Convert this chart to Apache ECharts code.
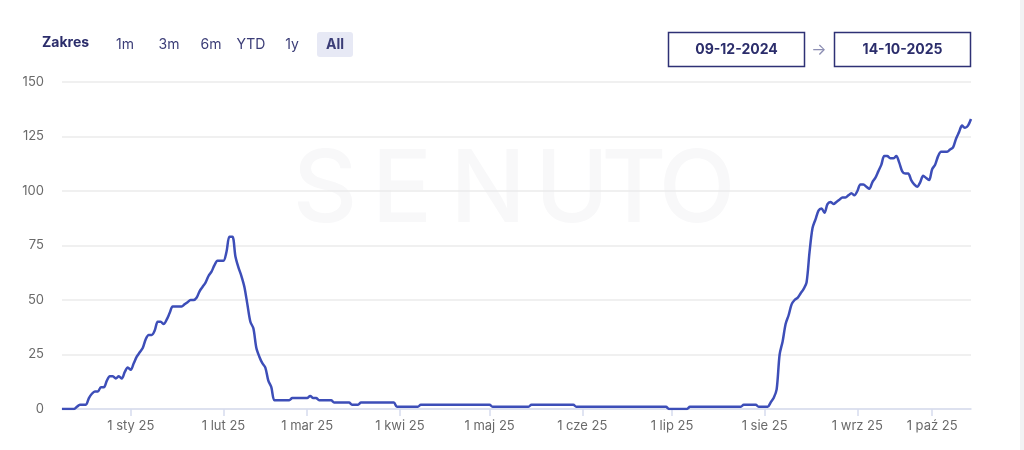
<!DOCTYPE html>
<html>
<head>
<meta charset="utf-8">
<script src="https://cdn.jsdelivr.net/npm/echarts@6/dist/echarts.min.js"></script>
<style>
html,body{margin:0;padding:0;background:#fff;}
#chart{width:1024px;height:450px;}
</style>
</head>
<body>
<div id="chart"></div>
<script>
// Daily values per month
const dec24 = [0,0,0,0,0,1,2,2,2,5,7,8,8,10,10,13,15,15,14,15,14,17,19];           // 9..31 Dec
const jan25 = [18,21,24,26,28,32,34,34,36,40,40,39,41,44,47,47,47,47,48,49,50,50,51,54,56,58,61,63,66,68,68];
const feb25 = [68,72,79,79,70,65,61,56,48,40,37,28,24,21,19,13,10,4,4,4,4,4,4,5,5,5,5,5];
const mar25 = [5,6,5,5,4,4,4,4,4,3,3,3,3,3,3,2,2,2,3,3,3,3,3,3,3,3,3,3,3,3,1];
const apr25 = [1,1,1,1,1,1,1,2,2,2,2,2,2,2,2,2,2,2,2,2,2,2,2,2,2,2,2,2,2,2];
const may25 = [2,1,1,1,1,1,1,1,1,1,1,1,1,1,2,2,2,2,2,2,2,2,2,2,2,2,2,2,2,1,1];
const jun25 = [1,1,1,1,1,1,1,1,1,1,1,1,1,1,1,1,1,1,1,1,1,1,1,1,1,1,1,1,1,0];
const jul25 = [0,0,0,0,0,0,1,1,1,1,1,1,1,1,1,1,1,1,1,1,1,1,1,1,2,2,2,2,2,1,1];
const aug25 = [1,1,3,5,9,25,31,39,43,48,50,51,53,55,58,72,83,87,91,92,90,94,95,94,95,96,97,97,98,99,98];
const sep25 = [100,103,103,102,101,104,106,109,112,116,116,115,115,116,113,109,108,108,105,103,102,104,107,106,105];
const oct25 = [110,112,116,118,118,118,119,120,124,127,130,129,130,133];

// Days of month for each data block
const decDays = [9,10,11,12,13,14,15,16,17,18,19,20,21,22,23,24,25,26,27,28,29,30,31];
const sepDays = [1,2,3,4,5,8,9,10,11,12,15,16,17,18,19,20,22,23,24,25,26,27,28,29,30];
const octDays = [1,2,3,4,5,6,7,8,9,10,11,12,13,14];

const yTicks = [0,25,50,75,100,125,150];
const rangeButtons = ['1m','3m','6m','YTD','1y','All'];
const dateFrom = '09-12-2024';
const dateTo = '14-10-2025';
const plMonths = ['sty','lut','mar','kwi','maj','cze','lip','sie','wrz','paź','lis','gru'];

// build categories + values
const blocks = [
  [2024,12,decDays,dec24],[2025,1,null,jan25],[2025,2,null,feb25],[2025,3,null,mar25],
  [2025,4,null,apr25],[2025,5,null,may25],[2025,6,null,jun25],[2025,7,null,jul25],
  [2025,8,null,aug25],[2025,9,sepDays,sep25],[2025,10,octDays,oct25]
];
const cats = [], vals = [];
blocks.forEach(([y,m,days,arr])=>{
  arr.forEach((v,i)=>{
    const d = days ? days[i] : i+1;
    cats.push(y+'-'+String(m).padStart(2,'0')+'-'+String(d).padStart(2,'0'));
    vals.push(v);
  });
});
const isFirst = (idx, val) => String(val).endsWith('-01');

const chart = echarts.init(document.getElementById('chart'));
const FONT = 'Inter, "Noto Sans", sans-serif';
const navy = '#2b2d6b';

const graphics = [];
// watermark
const wm = [['S',325],['E',402],['N',488],['U',572],['T',634],['O',697]];
wm.forEach(([ch,x])=>graphics.push({type:'text',z:-10,x:x,y:192,style:{text:ch,fill:'#f8f8f9',font:'500 100px '+FONT,textAlign:'center',textVerticalAlign:'middle'}}));
// right strip
graphics.push({type:'rect',shape:{x:1020,y:0,width:4,height:450},style:{fill:'#f2f2f4'}});
// Zakres
graphics.push({type:'text',x:42,y:43,style:{text:'Zakres',fill:navy,font:'700 14px '+FONT,textVerticalAlign:'middle'}});
const btnX = [125,169,211,251,292,335];
rangeButtons.forEach((b,i)=>{
  if (b==='All') {
    graphics.push({type:'rect',shape:{x:317,y:32,width:36,height:25,r:3},style:{fill:'#e7e9f5'}});
  }
  graphics.push({type:'text',x:btnX[i],y:45,style:{text:b,fill:'#3b3d77',font:(b==='All'?'700 14px ':'400 14px ')+FONT,textAlign:'center',textVerticalAlign:'middle'}});
});
// date boxes
graphics.push({type:'rect',shape:{x:668.5,y:32.5,width:136,height:34},style:{fill:'#fff',stroke:'#2e3175',lineWidth:1.5}});
graphics.push({type:'text',x:736.5,y:50,style:{text:dateFrom,fill:navy,font:'700 14px '+FONT,textAlign:'center',textVerticalAlign:'middle'}});
graphics.push({type:'text',x:819,y:50,style:{text:'→',fill:'#8c8eb3',font:'400 16px '+FONT,textAlign:'center',textVerticalAlign:'middle'}});
graphics.push({type:'rect',shape:{x:834.5,y:32.5,width:136,height:34},style:{fill:'#fff',stroke:'#2e3175',lineWidth:1.5}});
graphics.push({type:'text',x:902.5,y:50,style:{text:dateTo,fill:navy,font:'700 14px '+FONT,textAlign:'center',textVerticalAlign:'middle'}});

chart.setOption({
  animation:false,
  grid:{left:62,right:53,top:82,bottom:41,containLabel:false},
  xAxis:{
    type:'category',data:cats,boundaryGap:false,
    axisLine:{lineStyle:{color:'#d6dbee',width:1.5}},
    axisTick:{show:true,interval:isFirst,length:7,lineStyle:{color:'#d6dbee',width:1.5}},
    axisLabel:{interval:isFirst,margin:11,color:'#6a6a6a',fontSize:13,fontFamily:FONT,
      formatter:v=>{const p=v.split('-');return (+p[2])+' '+plMonths[+p[1]-1]+' '+p[0].slice(2);}},
    splitLine:{show:false}
  },
  yAxis:{
    type:'value',min:yTicks[0],max:yTicks[yTicks.length-1],interval:25,
    axisLine:{show:false},axisTick:{show:false},
    axisLabel:{color:'#6a6a6a',fontSize:13,fontFamily:FONT,margin:18},
    splitLine:{lineStyle:{color:'#ebebeb',width:1.5}}
  },
  series:[{
    type:'line',data:vals,smooth:0.3,showSymbol:false,z:5,
    lineStyle:{color:'#3d4eb8',width:2.5}
  }],
  graphic:graphics
});
</script>
</body>
</html>
